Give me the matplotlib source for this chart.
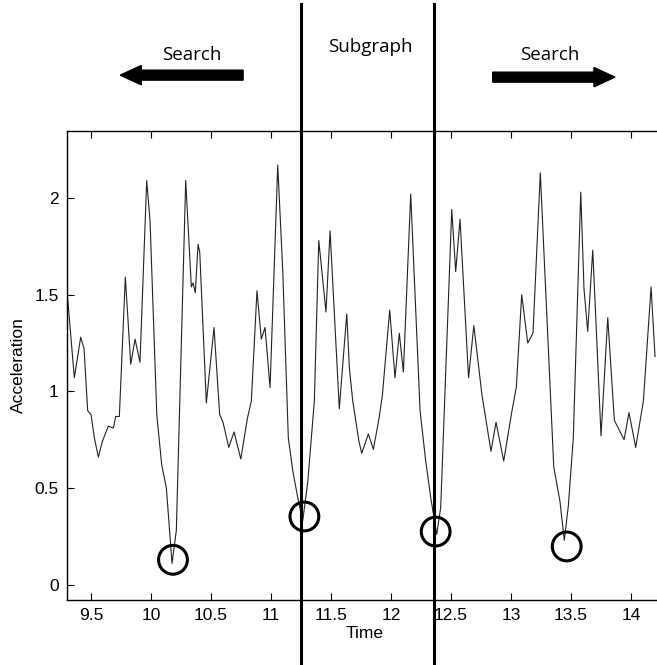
import matplotlib
matplotlib.use("Agg")
import matplotlib.pyplot as plt
from matplotlib.patches import FancyArrow

# acceleration trace
time = [9.30, 9.361, 9.414, 9.442, 9.472, 9.500, 9.528, 9.561, 9.594, 9.644,
        9.686, 9.706, 9.736, 9.786, 9.831, 9.867, 9.908, 9.964, 9.992, 10.048,
        10.089, 10.128, 10.175, 10.211, 10.289, 10.336, 10.350, 10.369, 10.392, 10.406,
        10.461, 10.525, 10.572, 10.600, 10.648, 10.692, 10.748, 10.803, 10.836, 10.883,
        10.919, 10.950, 10.992, 11.056, 11.098, 11.144, 11.181, 11.223, 11.264, 11.306,
        11.361, 11.398, 11.458, 11.492, 11.569, 11.631, 11.653, 11.681, 11.733, 11.756,
        11.811, 11.853, 11.900, 11.928, 11.989, 12.033, 12.069, 12.103, 12.164, 12.242,
        12.289, 12.331, 12.381, 12.414, 12.506, 12.539, 12.575, 12.646, 12.690, 12.758,
        12.833, 12.875, 12.939, 13.008, 13.044, 13.089, 13.139, 13.183, 13.244, 13.356,
        13.408, 13.444, 13.478, 13.519, 13.581, 13.608, 13.639, 13.681, 13.750, 13.806,
        13.861, 13.942, 13.983, 14.039, 14.103, 14.167, 14.200]
accel = [1.52, 1.07, 1.28, 1.22, 0.90, 0.88, 0.76, 0.66, 0.74, 0.82,
         0.81, 0.87, 0.87, 1.59, 1.14, 1.27, 1.15, 2.09, 1.88, 0.88,
         0.62, 0.50, 0.11, 0.28, 2.09, 1.54, 1.56, 1.51, 1.76, 1.72,
         0.94, 1.33, 0.88, 0.84, 0.71, 0.79, 0.65, 0.86, 0.95, 1.52,
         1.27, 1.33, 1.02, 2.17, 1.62, 0.76, 0.59, 0.45, 0.33, 0.53,
         0.95, 1.78, 1.41, 1.83, 0.91, 1.40, 1.12, 0.95, 0.74, 0.68,
         0.78, 0.70, 0.86, 0.98, 1.42, 1.07, 1.30, 1.10, 2.02, 0.90,
         0.64, 0.45, 0.26, 0.40, 1.94, 1.62, 1.89, 1.07, 1.34, 0.98,
         0.69, 0.84, 0.64, 0.90, 1.02, 1.50, 1.25, 1.30, 2.13, 0.61,
         0.43, 0.23, 0.41, 0.76, 2.03, 1.53, 1.31, 1.73, 0.77, 1.38,
         0.85, 0.75, 0.89, 0.71, 0.95, 1.54, 1.18]

# circled minima and subgraph borders
min_time = [10.183, 11.278, 12.372, 13.464]
min_accel = [0.129, 0.353, 0.275, 0.198]
subgraph_bounds = [11.25, 12.36]

xticks = [9.5, 10, 10.5, 11, 11.5, 12, 12.5, 13, 13.5, 14]
xticklabels = ["9.5", "10", "10.5", "11", "11.5", "12", "12.5", "13", "13.5", "14"]
yticks = [0, 0.5, 1, 1.5, 2]
yticklabels = ["0", "0.5", "1", "1.5", "2"]

plt.rcParams["font.family"] = ["Liberation Sans", "DejaVu Sans"]

fig = plt.figure(figsize=(6.57, 6.65), dpi=100)
# right edge of the box runs just past the picture, as in the original
ax = fig.add_axes([0.102, 0.098, 0.9056, 0.705])

ax.plot(time, accel, color="#222222", lw=0.8)
ax.scatter(min_time, min_accel, s=430, facecolors="none", edgecolors="black",
           linewidths=2.2, zorder=4)
for b in subgraph_bounds:
    ax.axvline(b, ymin=-0.14, ymax=1.27, color="black", lw=2.2, clip_on=False, zorder=5)

ax.set_xlim(9.30, 14.258)
ax.set_ylim(-0.078, 2.346)
ax.set_xticks(xticks)
ax.set_xticklabels(xticklabels)
ax.set_yticks(yticks)
ax.set_yticklabels(yticklabels)
ax.tick_params(direction="in", length=5, width=0.8, top=True, right=False,
               labelsize=12.5, pad=6)
ax.spines["right"].set_visible(False)
for sp in ax.spines.values():
    sp.set_linewidth(1.0)
ax.set_xlabel("Time", fontsize=12.5, labelpad=2)
ax.set_ylabel("Acceleration", fontsize=12.5, labelpad=6)

# search / subgraph annotations above the axes
txt = dict(fontsize=13.5, ha="center", va="center", family=["Open Sans", "DejaVu Sans"])
fig.text(0.292, 0.917, "Search", **txt)
fig.text(0.563, 0.929, "Subgraph", **txt)
fig.text(0.837, 0.917, "Search", **txt)
arr = dict(width=0.015, head_width=0.029, head_length=0.032, color="black",
           length_includes_head=True, transform=fig.transFigure)
fig.add_artist(FancyArrow(0.370, 0.887, -0.187, 0, **arr))
fig.add_artist(FancyArrow(0.750, 0.884, 0.186, 0, **arr))

fig.savefig("out.png", dpi=100)
